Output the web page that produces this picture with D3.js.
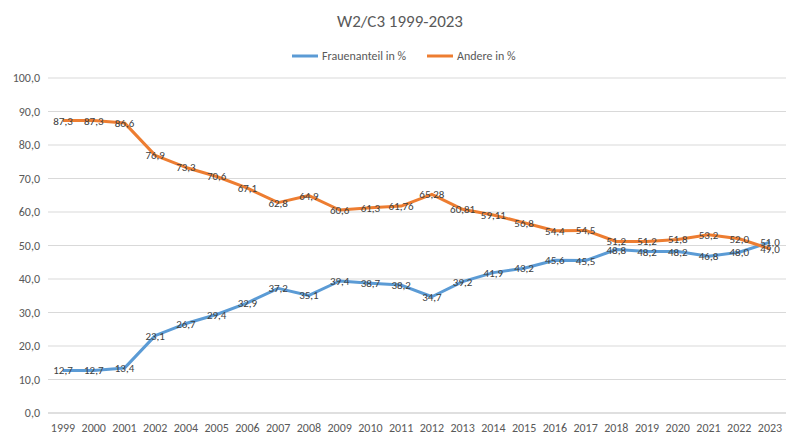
<!DOCTYPE html>
<html><head><meta charset="utf-8">
<script src="https://cdn.jsdelivr.net/npm/d3@7"></script>
<style>body{margin:0;background:#fff}text{font-family:Calibri,Carlito,"Liberation Sans",Arial,sans-serif}</style>
</head><body><svg id="c" width="800" height="446"></svg>
<script>
const years=["1999","2000","2001","2002","2004","2005","2006","2007","2008","2009","2010","2011","2012","2013","2014","2015","2016","2017","2018","2019","2020","2021","2022","2023"];
const frauen=[12.7,12.7,13.4,23.1,26.7,29.4,32.9,37.2,35.1,39.4,38.7,38.2,34.7,39.2,41.9,43.2,45.6,45.5,48.8,48.2,48.2,46.8,48.0,51.0];
const andere=[87.3,87.3,86.6,76.9,73.3,70.6,67.1,62.8,64.9,60.6,61.3,61.76,65.28,60.81,59.11,56.8,54.4,54.5,51.2,51.2,51.8,53.2,52.0,49.0];
const andereLabels=["87,3","87,3","86,6","76,9","73,3","70,6","67,1","62,8","64,9","60,6","61,3","61,76","65,28","60,81","59,11","56,8","54,4","54,5","51,2","51,2","51,8","53,2","52,0","49,0"];
const yTicks=[0,10,20,30,40,50,60,70,80,90,100];
const svg=d3.select("#c");
const x=d3.scalePoint().domain(years).range([63,770]).padding(0);
const y=d3.scaleLinear().domain([0,100]).range([413,78]);
const fmt=v=>v.toFixed(1).replace(".",",");
svg.append("g").selectAll("line").data(yTicks).join("line")
 .attr("x1",48).attr("x2",786).attr("y1",d=>y(d)).attr("y2",d=>y(d))
 .attr("stroke",d=>d===0?"#bfbfbf":"#d9d9d9");
svg.append("g").selectAll("text").data(yTicks).join("text")
 .attr("x",40).attr("y",d=>y(d)+4).attr("text-anchor","end").attr("font-size",12).attr("fill","#595959").text(fmt);
svg.append("g").selectAll("text").data(years).join("text")
 .attr("x",d=>x(d)).attr("y",432).attr("text-anchor","middle").attr("font-size",12).attr("fill","#595959").text(d=>d);
const line=d3.line().x((d,i)=>x(years[i])).y(d=>y(d));
svg.append("path").datum(frauen).attr("d",line).attr("fill","none").attr("stroke","#5b9bd5").attr("stroke-width",3).attr("stroke-linejoin","round");
svg.append("path").datum(andere).attr("d",line).attr("fill","none").attr("stroke","#ed7d31").attr("stroke-width",3).attr("stroke-linejoin","round");
svg.append("g").selectAll("text").data(frauen).join("text")
 .attr("x",(d,i)=>x(years[i])).attr("y",d=>y(d)+4).attr("text-anchor","middle").attr("font-size",11).attr("fill","#404040")
 .text((d,i)=>fmt(d));
svg.append("g").selectAll("text").data(andere).join("text")
 .attr("x",(d,i)=>x(years[i])).attr("y",d=>y(d)+4).attr("text-anchor","middle").attr("font-size",11).attr("fill","#404040")
 .text((d,i)=>andereLabels[i]);
svg.append("text").attr("x",400).attr("y",27).attr("text-anchor","middle").attr("font-size",17).attr("fill","#595959").text("W2/C3 1999-2023");
const lg=[["Frauenanteil in %","#5b9bd5",292],["Andere in %","#ed7d31",427]];
lg.forEach(([t,c,lx])=>{
 svg.append("line").attr("x1",lx).attr("x2",lx+26).attr("y1",56).attr("y2",56).attr("stroke",c).attr("stroke-width",3);
 svg.append("text").attr("x",lx+30).attr("y",60).attr("font-size",12).attr("fill","#595959").text(t);
});
</script></body></html>
